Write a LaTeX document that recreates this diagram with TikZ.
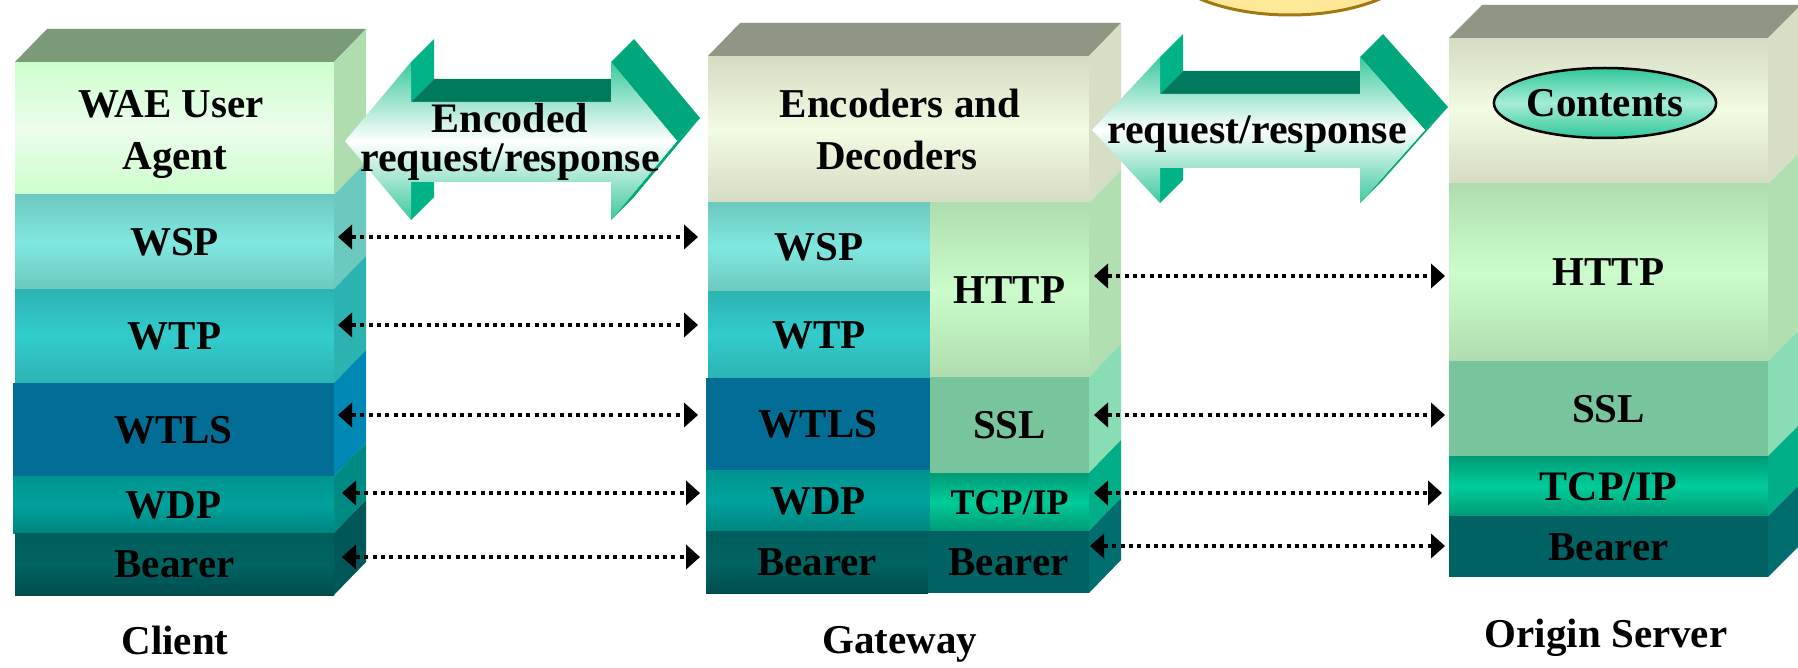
\documentclass[tikz,border=0pt]{standalone}
\usepackage{fontspec}
\setmainfont{Liberation Serif}
\usetikzlibrary{arrows.meta,shapes.geometric}

% palette
\definecolor{topclient}{HTML}{7A9A7A}
\definecolor{topgrey}{HTML}{8F9784}
\definecolor{waeA}{HTML}{CCFFCC}\definecolor{waeB}{HTML}{ECFDEC}\definecolor{waeS}{HTML}{B0DDB0}
\definecolor{wspA}{HTML}{6CC9BF}\definecolor{wspB}{HTML}{80E8E0}\definecolor{wspS}{HTML}{6BC9BF}
\definecolor{wtpA}{HTML}{2CB3B3}\definecolor{wtpB}{HTML}{33CCCC}\definecolor{wtpS}{HTML}{2DB2B2}
\definecolor{wtlsF}{HTML}{026E96}\definecolor{wtlsS}{HTML}{0088B4}
\definecolor{wdpA}{HTML}{00948F}\definecolor{wdpB}{HTML}{00A19D}\definecolor{wdpC}{HTML}{00857F}\definecolor{wdpS}{HTML}{008A84}
\definecolor{bearA}{HTML}{005E5C}\definecolor{bearB}{HTML}{006462}\definecolor{bearC}{HTML}{004E4E}\definecolor{bearS}{HTML}{005757}
\definecolor{encA}{HTML}{D4DCC4}\definecolor{encB}{HTML}{F2FCE2}\definecolor{encS}{HTML}{D6DEC6}
\definecolor{httpA}{HTML}{AFDDAF}\definecolor{httpB}{HTML}{CCFCCC}\definecolor{httpS}{HTML}{B2DFB2}
\definecolor{sslF}{HTML}{78C49C}\definecolor{sslS}{HTML}{88DDB4}
\definecolor{tcpA}{HTML}{009A76}\definecolor{tcpB}{HTML}{00CC99}\definecolor{tcpS}{HTML}{00AE88}
\definecolor{gbearF}{HTML}{006262}\definecolor{gbearS}{HTML}{006E6E}
\definecolor{arrface}{HTML}{3CC99E}
\definecolor{arrsideA}{HTML}{00B386}
\definecolor{arrsideB}{HTML}{00A67C}
\definecolor{arrtop}{HTML}{007A5C}
\definecolor{ellA}{HTML}{30C89A}\definecolor{ellB}{HTML}{A6ECD8}
\definecolor{sunfill}{HTML}{FFE999}\definecolor{sunline}{HTML}{A07810}

\newcommand\lbl{\fontsize{41}{49}\selectfont\bfseries}
\newcommand\lblsm{\fontsize{36}{43}\selectfont\bfseries}
\newcommand\lblar{\fontsize{42}{50}\selectfont\bfseries}

% one front face of a protocol layer: name, style, x1, y1, x2, y2, text
\newcommand\stackbox[7]{%
  \node[layer,#2,minimum width={(#5-#3)*1pt},minimum height={(#6-#4)*1pt}]
    (#1) at ({(#3+#5)/2},{(#4+#6)/2}) {#7};}
% right-hand face of a layer: colour, node, depth
\newcommand\sideface[3]{%
  \fill[#1] (#2.north east) -- ++(#3,-33) -- ([xshift=#3pt,yshift=33pt]#2.south east)
    -- (#2.south east) -- cycle;}
% top face of a stack: colour, node, depth
\newcommand\topface[3]{%
  \fill[#1] (#2.north west) -- ++(#3,-33) -- ([xshift=#3pt,yshift=33pt]#2.north east)
    -- (#2.north east) -- cycle;}
% extruded double arrow: left tip, head back L, head back R, right tip,
% mid y, head top, head bottom, shaft top, shaft bottom
\newcommand\bigarrow[9]{%
  \fill[arrsideA] (#2,#6) -- ++(23,-23) -- (#2+23,#8-23) -- (#2,#8) -- cycle;
  \fill[arrsideA] (#2,#9) -- ++(23,-23) -- (#2+23,#7-23) -- (#2,#7) -- cycle;
  \fill[arrtop] (#2,#8) -- ++(23,-23) -- (#3,#8-23) -- (#3,#8) -- cycle;
  \fill[arrsideB] (#3,#6) -- ++(23,-23) -- (#4+23,#5-23) -- (#4,#5) -- cycle;
  \fill[arrsideB] (#4,#5) -- ++(23,-23) -- (#3+23,#7-23) -- (#3,#7) -- cycle;
  \shade[top color=arrface,bottom color=arrface,middle color=white]
    (#1,#5) -- (#2,#6) -- (#2,#8) -- (#3,#8) -- (#3,#6) -- (#4,#5)
    -- (#3,#7) -- (#3,#9) -- (#2,#9) -- (#2,#7) -- cycle;}

\tikzset{
  layer/.style={rectangle,inner sep=0pt,outer sep=0pt,font=\lbl,
    text height=27pt,text depth=0pt},
  grad/.style n args={3}{top color=#1,bottom color=#3,middle color=#2},
  txt/.style={anchor=base,font=\lbl,inner sep=0pt},
  conn/.style={line width=4pt,dash pattern=on 4pt off 4.3pt,
    {Triangle[length=14pt,width=25pt,line width=0pt]}-{Triangle[length=14pt,width=25pt,line width=0pt]}},
}

\begin{document}
\begin{tikzpicture}[x=1pt,y=-1pt]
\path[use as bounding box,fill=white] (0,0) rectangle (1798,668);
\clip (0,0) rectangle (1798,668);

% sun shape peeking in at the top
\filldraw[fill=sunfill,draw=sunline,line width=3pt] (1290,-45) ellipse [x radius=132,y radius=60];

% ---------------- Client stack ----------------
\stackbox{cwae}{grad={waeA}{waeB}{waeA}}{15}{62}{334}{195}{}
\stackbox{cwsp}{grad={wspA}{wspB}{wspA}}{15}{195}{334}{289}{WSP}
\stackbox{cwtp}{grad={wtpA}{wtpB}{wtpA}}{15}{289}{334}{383}{WTP}
\stackbox{cwtls}{fill=wtlsF}{13}{383}{334}{476}{WTLS}
\stackbox{cwdp}{grad={wdpA}{wdpB}{wdpC}}{13}{476}{334}{533}{WDP}
\stackbox{cbear}{grad={bearA}{bearB}{bearC}}{15}{533}{334}{595}{Bearer}
\topface{topclient}{cwae}{32}
\sideface{waeS}{cwae}{32}
\sideface{wspS}{cwsp}{32}
\sideface{wtpS}{cwtp}{32}
\sideface{wtlsS}{cwtls}{32}
\sideface{wdpS}{cwdp}{32}
\sideface{bearS}{cbear}{32}
\node[txt] (cwae1) at (171,118) {WAE User};
\node[txt] (cwae2) at (175,170) {Agent};
\node[txt] (lclient) at (175,654) {Client};

% ---------------- Gateway stack ----------------
\stackbox{genc}{grad={encA}{encB}{encA}}{708}{56}{1089}{203}{}
\stackbox{gwsp}{grad={wspA}{wspB}{wspA}}{708}{203}{930}{291}{WSP}
\stackbox{gwtp}{grad={wtpA}{wtpB}{wtpA}}{708}{291}{930}{378}{WTP}
\stackbox{ghttp}{grad={httpA}{httpB}{httpA}}{930}{203}{1089}{377}{HTTP}
\stackbox{gwtls}{fill=wtlsF}{706}{378}{930}{470}{WTLS}
\stackbox{gssl}{fill=sslF}{930}{377}{1089}{473}{SSL}
\stackbox{gwdp}{grad={wdpA}{wdpB}{wdpC}}{706}{470}{930}{531}{WDP}
\stackbox{gtcp}{grad={tcpA}{tcpB}{tcpA},font=\lblsm,text height=24pt}{930}{473}{1089}{531}{TCP/IP}
\stackbox{gbear1}{grad={bearA}{bearB}{bearC}}{706}{531}{928}{593}{Bearer}
\stackbox{gbear2}{fill=gbearF}{928}{531}{1089}{593}{Bearer}
\topface{topgrey}{genc}{32}
\sideface{encS}{genc}{32}
\sideface{httpS}{ghttp}{32}
\sideface{sslS}{gssl}{32}
\sideface{tcpS}{gtcp}{32}
\sideface{gbearS}{gbear2}{32}
\node[txt] (genc1) at (900,118) {Encoders and};
\node[txt] (genc2) at (897,170) {Decoders};
\node[txt] (lgateway) at (900,653) {Gateway};

% ---------------- Origin server stack ----------------
\stackbox{ocont}{grad={encA}{encB}{encA}}{1449}{38}{1768}{184}{}
\stackbox{ohttp}{grad={httpA}{httpB}{httpA}}{1449}{184}{1768}{361}{HTTP}
\stackbox{ossl}{fill=sslF}{1449}{361}{1768}{456}{SSL}
\stackbox{otcp}{grad={tcpA}{tcpB}{tcpA},font=\fontsize{42}{50}\selectfont\bfseries,text height=28pt}{1449}{456}{1768}{516}{TCP/IP}
\stackbox{obear}{fill=gbearF}{1449}{516}{1768}{577}{Bearer}
\topface{topgrey}{ocont}{33}
\sideface{encS}{ocont}{33}
\sideface{httpS}{ohttp}{33}
\sideface{sslS}{ossl}{33}
\sideface{tcpS}{otcp}{33}
\sideface{gbearS}{obear}{33}
\node[ellipse,draw=black,line width=2.5pt,grad={ellA}{ellB}{ellA},
  minimum width=201pt,minimum height=70pt,inner sep=0pt,font=\lbl,
  text height=27pt,text depth=0pt] (ocontents) at (1605,103) {Contents};
\node[txt] (lorigin) at (1606,647) {Origin Server};

% ---------------- broad message arrows ----------------
\bigarrow{345}{411}{611}{677}{141}{62}{220}{102}{182}
\node[txt,font=\lblar] (arr1a) at (510,133) {Encoded};
\node[txt,font=\lblar] (arr1b) at (510,172) {request/response};
\bigarrow{1092}{1160}{1360}{1425}{130}{57}{203}{94}{168}
\node[txt,font=\lblar] (arr2) at (1257,144) {request/response};

% ---------------- peer-to-peer links ----------------
\draw[conn] ([xshift=4pt,yshift=5pt]cwsp.east) -- ([xshift=-10pt,yshift=10pt]gwsp.west);
\draw[conn] ([xshift=4pt,yshift=11pt]cwtp.east) -- ([xshift=-10pt,yshift=9.5pt]gwtp.west);
\draw[conn] ([xshift=4pt,yshift=14.5pt]cwtls.east) -- ([xshift=-8pt,yshift=9pt]gwtls.west);
\draw[conn] ([xshift=8pt,yshift=11.5pt]cwdp.east) -- ([xshift=-6pt,yshift=7.5pt]gwdp.west);
\draw[conn] ([xshift=8pt,yshift=7pt]cbear.east) -- ([xshift=-6pt,yshift=5pt]gbear1.west);
\draw[conn] ([xshift=5pt,yshift=14pt]ghttp.east) -- ([xshift=-4pt,yshift=-3.5pt]ohttp.west);
\draw[conn] ([xshift=5pt,yshift=10pt]gssl.east) -- ([xshift=-4pt,yshift=-6.5pt]ossl.west);
\draw[conn] ([xshift=5pt,yshift=9pt]gtcp.east) -- ([xshift=-7pt,yshift=-7pt]otcp.west);
\draw[conn] ([xshift=1pt,yshift=16pt]gbear2.east) -- ([xshift=-4pt,yshift=0.5pt]obear.west);
\end{tikzpicture}
\end{document}
